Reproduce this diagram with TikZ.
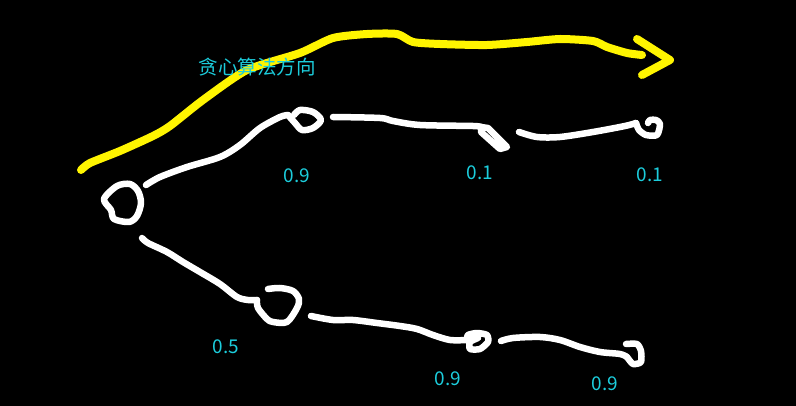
\documentclass[tikz,border=0pt]{standalone}
\usepackage{fontspec}
\setmainfont{Noto Sans CJK SC}
\definecolor{labelcyan}{RGB}{28,205,220}
\definecolor{pathyellow}{RGB}{255,245,0}
\begin{document}
\begin{tikzpicture}[x=1pt,y=-1pt,
  stroke/.style={white,line width=6.5pt,line cap=round,line join=round},
  greedy/.style={pathyellow,line width=8pt,line cap=round,line join=round},
  lbl/.style={labelcyan,font=\fontsize{19}{22}\selectfont,inner sep=0pt}]
\fill[black] (0,0) rectangle (796,406);
\useasboundingbox (0,0) rectangle (796,406);
% greedy direction (yellow)
\draw[greedy] plot[smooth,tension=0.4] coordinates {(81,170) (90,163) (120,151) (153,136) (170,126) (203,100) (247,70) (300,53) (333,38) (367,34) (397,34) (413,42) (440,44) (487,45) (527,42) (560,39) (593,41) (607,47) (627,53) (642,55)};
\draw[greedy] (637,39) -- (670,60) -- (642,75);
\node[lbl,font=\fontsize{19.5}{22}\selectfont] (title) at (257,67) {贪心算法方向};
% root node
\draw[stroke] plot[smooth cycle,tension=0.5] coordinates {(104,199) (117,186) (130,184) (138,191) (141,203) (137,216) (129,222) (114,219) (111,210)};
% upper branch
\draw[stroke] plot[smooth,tension=0.5] coordinates {(146,185) (160,177) (187,167) (220,157) (240,145) (260,128) (280,117) (288,115)};
\draw[stroke] plot[smooth,tension=0.5] coordinates {(288,115) (295,123) (302,130) (313,128) (321,120) (313,112) (300,110) (294,115)};
\draw[stroke] plot[smooth,tension=0.5] coordinates {(333,117) (380,118) (393,121) (420,125) (473,126) (481,127)};
\draw[stroke] (481,127) -- (488,128) -- (507,147) -- (500,149) -- (481,132) -- (481,127);
\draw[stroke] plot[smooth,tension=0.5] coordinates {(519,132) (537,137) (560,137) (593,132) (625,126) (636,123)};
\draw[stroke] plot[smooth,tension=0.45] coordinates {(636,123) (639,130) (646,135) (657,135) (660,124) (656,120) (650,120) (648,123)};
% lower branch
\draw[stroke] plot[smooth,tension=0.5] coordinates {(142,238) (148,243) (167,252) (183,262) (200,272) (220,284) (237,297) (248,300) (257,300)};
\draw[stroke] plot[smooth,tension=0.5] coordinates {(257,300) (258,308) (267,319) (273,322) (287,322) (297,308) (299,299) (293,291) (280,288) (268,289)};
\draw[stroke] plot[smooth,tension=0.5] coordinates {(311,316) (333,320) (353,320) (377,323) (400,326) (417,329) (433,335) (450,340) (467,340)};
\draw[stroke] plot[smooth,tension=0.4] coordinates {(467,340) (468,335) (477,333) (487,335) (488,342) (480,349) (470,349) (470,342) (478,338)};
\draw[stroke] plot[smooth,tension=0.5] coordinates {(501,341) (513,338) (540,337) (560,340) (580,347) (600,352) (620,354) (627,357)};
\draw[stroke] plot[smooth,tension=0.4] coordinates {(627,357) (633,364) (641,362) (641,351) (637,344) (626,344)};
% probability labels
\node[lbl] (p1) at (297,176) {0.9};
\node[lbl] (p2) at (480,173) {0.1};
\node[lbl] (p3) at (650,175) {0.1};
\node[lbl] (q1) at (226,347) {0.5};
\node[lbl] (q2) at (448,379) {0.9};
\node[lbl] (q3) at (605,384) {0.9};
\end{tikzpicture}
\end{document}
